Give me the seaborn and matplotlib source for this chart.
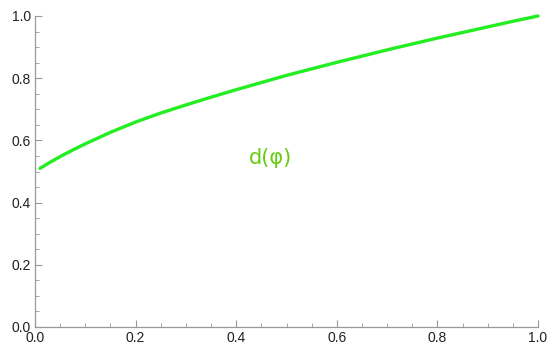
import numpy as np
import pandas as pd
import matplotlib
matplotlib.use("Agg")
import matplotlib.pyplot as plt
import seaborn as sns
from matplotlib.ticker import MultipleLocator, FormatStrFormatter

# values
x_vals = [0.01, 0.025, 0.05, 0.075, 0.10, 0.15, 0.20, 0.25, 0.30, 0.35, 0.40, 0.45,
          0.50, 0.55, 0.60, 0.65, 0.70, 0.75, 0.80, 0.85, 0.90, 0.95, 1.00]
y_vals = [0.510, 0.525, 0.548, 0.569, 0.589, 0.626, 0.659, 0.688, 0.714, 0.739, 0.763, 0.786,
          0.809, 0.830, 0.851, 0.871, 0.891, 0.910, 0.929, 0.947, 0.965, 0.983, 1.000]
label_text = "d(φ)"

df = pd.DataFrame({"x": x_vals, "y": y_vals})

sns.set_style("ticks")
plt.rcParams['font.family'] = ['Liberation Sans', 'DejaVu Sans']

fig = plt.figure(figsize=(5.49, 3.47), dpi=100)
ax = fig.add_axes([35 / 549, 1 - 327 / 347, (538 - 35) / 549, (327 - 16) / 347])

sns.lineplot(data=df, x="x", y="y", ax=ax, color="#22ee22", linewidth=2.4)
for ln in ax.lines:
    ln.set_clip_on(False)
    ln.set_solid_joinstyle("round")

ax.set_xlim(0, 1)
ax.set_ylim(0, 1)
ax.set_xlabel("")
ax.set_ylabel("")
ax.xaxis.set_major_locator(MultipleLocator(0.2))
ax.yaxis.set_major_locator(MultipleLocator(0.2))
ax.xaxis.set_minor_locator(MultipleLocator(0.05))
ax.yaxis.set_minor_locator(MultipleLocator(0.05))
ax.xaxis.set_major_formatter(FormatStrFormatter("%.1f"))
ax.yaxis.set_major_formatter(FormatStrFormatter("%.1f"))

ax.tick_params(which="major", direction="in", length=5, width=0.8, color="#999999",
               labelsize=10, labelcolor="#222222", pad=3)
ax.tick_params(which="minor", direction="in", length=3, width=0.6, color="#999999")

for side in ["top", "right"]:
    ax.spines[side].set_visible(False)
for side in ["left", "bottom"]:
    ax.spines[side].set_color("#999999")
    ax.spines[side].set_linewidth(0.9)

# handwritten-looking annotation in the middle of the plot
ax.text(0.468, 0.543, label_text, color="#66cc11", fontsize=15,
        ha="center", va="center", family=["DejaVu Sans"])

fig.savefig("out.png", dpi=100)
